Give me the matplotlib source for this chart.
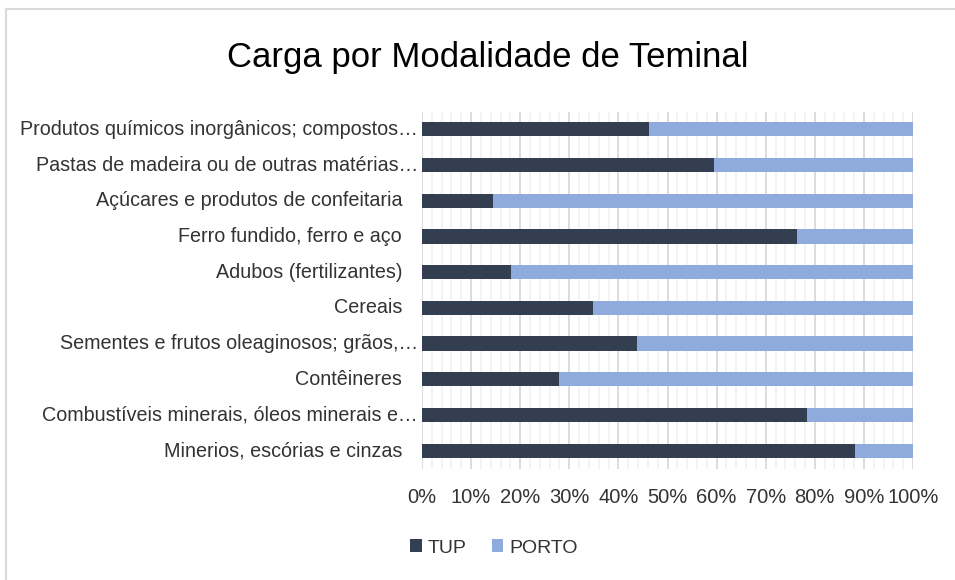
import matplotlib
matplotlib.use('Agg')
import matplotlib.pyplot as plt
from matplotlib import font_manager
from matplotlib.ticker import MultipleLocator, PercentFormatter
from matplotlib.lines import Line2D
import numpy as np

categorias = [
    "Produtos químicos inorgânicos; compostos…",
    "Pastas de madeira ou de outras matérias…",
    "Açúcares e produtos de confeitaria",
    "Ferro fundido, ferro e aço",
    "Adubos (fertilizantes)",
    "Cereais",
    "Sementes e frutos oleaginosos; grãos,…",
    "Contêineres",
    "Combustíveis minerais, óleos minerais e…",
    "Minerios, escórias e cinzas",
]
tup = [46.3, 59.4, 14.5, 76.3, 18.1, 34.8, 43.7, 28.0, 78.5, 88.1]
porto = [100 - v for v in tup]
x_ticks = list(range(0, 101, 10))

nomes = {f.name for f in font_manager.fontManager.ttflist}
fonte = 'Liberation Sans Narrow' if 'Liberation Sans Narrow' in nomes else 'Liberation Sans'
plt.rcParams['font.family'] = [fonte, 'DejaVu Sans']

cor_tup = '#333F50'
cor_porto = '#8FAADC'

fig = plt.figure(figsize=(9.55, 5.8), dpi=100)
ax = fig.add_axes([422/955, 111.5/580, 491/955, 357/580])

y = np.arange(len(categorias))
ax.barh(y, tup, height=0.4, color=cor_tup, label='TUP', zorder=3)
ax.barh(y, porto, left=tup, height=0.4, color=cor_porto, label='PORTO', zorder=3)

ax.set_xlim(0, 100)
ax.set_ylim(len(categorias) - 0.5, -0.5)
ax.xaxis.set_major_locator(MultipleLocator(10))
ax.xaxis.set_minor_locator(MultipleLocator(2))
ax.xaxis.set_major_formatter(PercentFormatter(decimals=0))
ax.grid(axis='x', which='major', color='#D9D9D9', lw=1.3, zorder=1)
ax.grid(axis='x', which='minor', color='#F2F2F2', lw=1.3, zorder=0)
ax.tick_params(axis='x', which='both', length=0, labelsize=14.5, labelcolor='#333333', pad=14)
ax.set_xticks(x_ticks)
ax.set_yticks([])
for s in ax.spines.values():
    s.set_visible(False)

# rotulos das categorias (os truncados ficam mais perto do eixo, como no Excel)
for i, nome in enumerate(categorias):
    xpos = -4/491 if nome.endswith('…') else -20/491
    ax.text(xpos, i, nome, transform=ax.get_yaxis_transform(), ha='right',
            va='center', fontsize=14.2, color='#333333')

fig.text(488/955, 1 - 57/580, 'Carga por Modalidade de Teminal', ha='center',
         va='center', fontsize=25, color='#000000')

fig.legend(loc='center', bbox_to_anchor=(494/955, 1 - 548/580), ncol=2,
           frameon=False, fontsize=14, handlelength=0.6, handleheight=0.6,
           handletextpad=0.3, columnspacing=1.3, labelcolor='#333333')

# moldura cinza do grafico
fig.add_artist(Line2D([6/955, 1], [1 - 9/580] * 2, color='#D9D9D9', lw=1.5))
fig.add_artist(Line2D([6/955] * 2, [0, 1 - 9/580], color='#D9D9D9', lw=1.5))

fig.savefig('out.png', dpi=100, facecolor='white')
